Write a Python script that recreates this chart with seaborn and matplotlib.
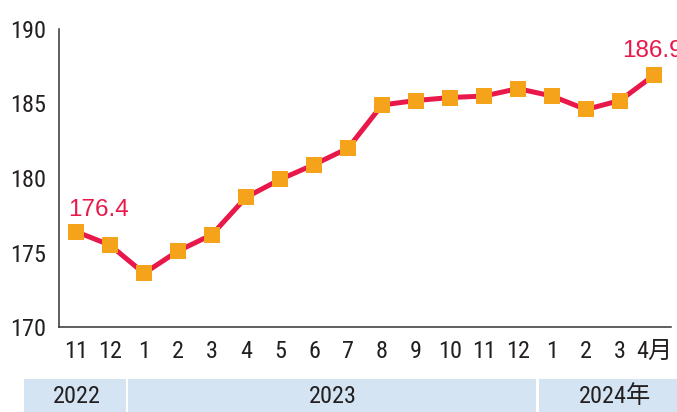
import numpy as np
import pandas as pd
import seaborn as sns
import matplotlib.pyplot as plt
from matplotlib.patches import Rectangle
from matplotlib.ticker import FixedLocator

# datos
meses = ["11", "12", "1", "2", "3", "4", "5", "6", "7", "8", "9", "10", "11", "12",
         "1", "2", "3", "4月"]
valores = [176.4, 175.5, 173.6, 175.1, 176.2, 178.7, 179.9, 180.9, 182.0, 184.9,
           185.2, 185.4, 185.5, 186.0, 185.5, 184.6, 185.2, 186.9]
anios = ["2022", "2023", "2024年"]
meses_por_anio = [2, 12, 4]
y_ticks = [170, 175, 180, 185, 190]

ROJO = "#E8194A"
NARANJA = "#F6A31C"
AZUL = "#D4E4F3"
TEXTO = "#231F20"

sns.set_style("white")
plt.rcParams["font.family"] = ["Roboto Condensed", "Archivo Narrow", "Noto Sans CJK JP", "DejaVu Sans"]
FUENTE_ROJA = ["Liberation Sans", "DejaVu Sans"]

df = pd.DataFrame({"x": np.arange(len(valores)), "valor": valores})

fig = plt.figure(figsize=(6.77, 4.12), dpi=100)
ax = fig.add_axes([59 / 677, 85 / 412, 612 / 677, 298 / 412])

sns.lineplot(data=df, x="x", y="valor", ax=ax, color=ROJO, linewidth=3.6,
             marker="s", markersize=11.5, markerfacecolor=NARANJA,
             markeredgewidth=0, clip_on=False)

ax.set_xlim(-0.5, len(valores) - 0.5)
ax.set_ylim(170, 190)
ax.set_xlabel("")
ax.set_ylabel("")

for s in ["top", "right"]:
    ax.spines[s].set_visible(False)
for s in ["left", "bottom"]:
    ax.spines[s].set_color("#333333")
    ax.spines[s].set_linewidth(1.1)

ax.set_yticks(y_ticks)
ax.set_yticklabels([str(t) for t in y_ticks])
ax.tick_params(axis="y", direction="in", length=10, width=1.1, color="#333333",
               labelsize=17.5, labelcolor=TEXTO, pad=9)

ax.set_xticks(df["x"])
ax.set_xticklabels(meses)
ax.tick_params(axis="x", which="major", length=0, labelsize=17.5, labelcolor=TEXTO, pad=9)
ax.xaxis.set_minor_locator(FixedLocator(np.arange(0.5, len(valores), 1)))
ax.tick_params(axis="x", which="minor", direction="in", length=4.5, width=1.1,
               color="#333333")

# etiquetas de primer y último valor
ax.annotate(f"{valores[0]}", (0, valores[0]), xytext=(-6, 11.5), textcoords="offset points",
            ha="left", va="baseline", color=ROJO, fontsize=17.5, family=FUENTE_ROJA)
ax.annotate(f"{valores[-1]}", (len(valores) - 1, valores[-1]), xytext=(-23, 13),
            textcoords="offset points", ha="left", va="baseline", color=ROJO,
            fontsize=17.5, family=FUENTE_ROJA, annotation_clip=False)

# franja de años
trans = ax.get_xaxis_transform()
bordes_izq = [-1.03, 0.04, 0.12]
bordes_der = [-0.04, 0.04, 1.0]
desplaz_txt = [0.05, 0.0, -0.2]
inicio = -0.5
for i, (anio, n) in enumerate(zip(anios, meses_por_anio)):
    x0 = inicio + bordes_izq[i]
    x1 = inicio + n + bordes_der[i]
    ax.add_patch(Rectangle((x0, -0.285), x1 - x0, 0.11, transform=trans,
                           facecolor=AZUL, edgecolor="none", clip_on=False))
    ax.text((x0 + x1) / 2 + desplaz_txt[i], -0.232, anio, transform=trans,
            ha="center", va="center", fontsize=17.5, color=TEXTO)
    inicio += n

fig.savefig("out.png", dpi=100)
